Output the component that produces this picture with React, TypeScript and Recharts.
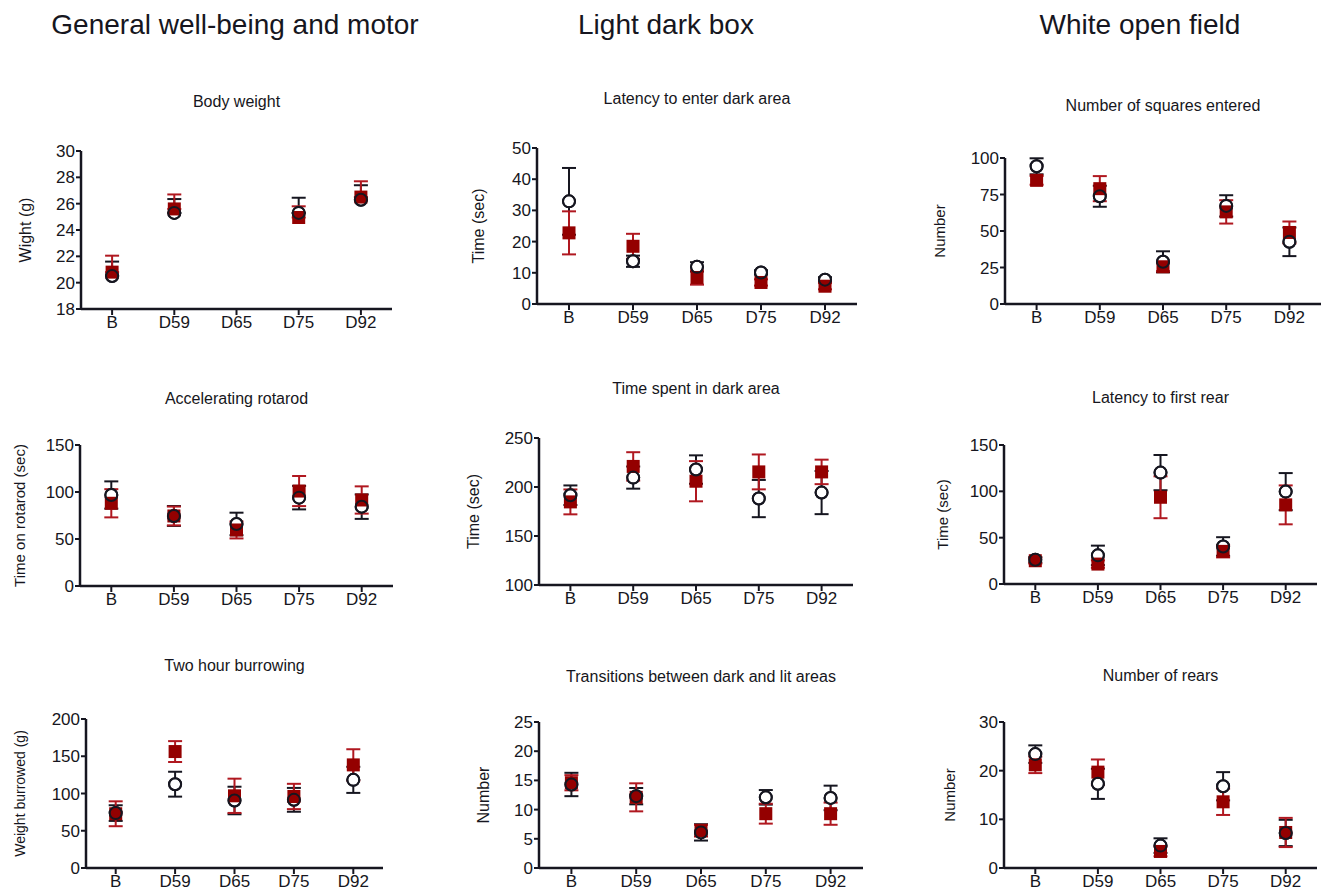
import React from "react";
import { ScatterChart, Scatter, XAxis, YAxis, ErrorBar } from "recharts";

const DAYS = ["B", "D59", "D65", "D75", "D92"];

// Body weight (g) - error bars only drawn upward in the original
const weightCirc = [20.5, 25.3, null, 25.3, 26.3];
const weightCircErr = [1.1, 1.05, null, 1.15, 1.1];
const weightSq = [20.8, 25.6, null, 24.95, 26.5];
const weightSqErr = [1.25, 1.1, null, 0.85, 1.2];

// Latency to enter dark area (sec)
const latDarkCirc = [32.9, 13.7, 11.9, 10.1, 7.8];
const latDarkCircErr = [10.7, 1.8, 1.5, 0.7, 0.8];
const latDarkSq = [22.8, 18.5, 8.5, 6.9, 5.7];
const latDarkSqErr = [6.9, 4.0, 2.3, 1.0, 1.0];

// Number of squares entered
const squaresCirc = [94.3, 73.8, 28.9, 67.2, 42.6];
const squaresCircErr = [5.5, 7.2, 7.2, 7.3, 9.8];
const squaresSq = [84.7, 79.0, 25.5, 63.1, 49.0];
const squaresSqErr = [3, 8.6, 3, 8, 7.5];

// Accelerating rotarod (sec)
const rotarodCirc = [96.8, 74.5, 66, 94, 84.4];
const rotarodCircErr = [14.5, 10.6, 12, 12.5, 13];
const rotarodSq = [88, 74.5, 59.6, 101, 91.5];
const rotarodSqErr = [15, 10, 9, 16, 14.5];

// Time spent in dark area (sec)
const darkTimeCirc = [191.6, 209.6, 217.8, 188.2, 194.3];
const darkTimeCircErr = [10, 11.3, 14.5, 19, 22];
const darkTimeSq = [184.8, 221, 205.9, 215.4, 215.4];
const darkTimeSqErr = [12.7, 14.5, 20.5, 17.8, 12.5];

// Latency to first rear (sec)
const rearLatCirc = [26.2, 30.9, 120.2, 40.5, 99.7];
const rearLatCircErr = [3, 10.5, 19, 10, 20];
const rearLatSq = [25.1, 21.5, 93.6, 35.2, 85.4];
const rearLatSqErr = [3, 4, 22.6, 6.5, 21];

// Two hour burrowing (g)
const burrowCirc = [73.7, 112.5, 90.6, 91.5, 118.3];
const burrowCircErr = [10.5, 16.7, 18.5, 16, 17.5];
const burrowSq = [72.8, 156.3, 96.9, 96, 138.4];
const burrowSqErr = [16.7, 14, 23, 17, 21];

// Transitions between dark and lit areas
const transCirc = [14.3, 12.3, 6.1, 12.1, 12.0];
const transCircErr = [2, 1.4, 1.4, 1.25, 2.1];
const transSq = [14.6, 12.1, 6.4, 9.3, 9.3];
const transSqErr = [1.3, 2.4, 1.0, 1.7, 1.9];

// Number of rears
const rearsCirc = [23.4, 17.3, 4.6, 16.8, 7.2];
const rearsCircErr = [1.8, 3.1, 1.5, 2.9, 2.7];
const rearsSq = [21.2, 19.7, 3.4, 13.6, 7.3];
const rearsSqErr = [1.7, 2.6, 1.0, 2.7, 3.0];

const INK = "#161620";
const RED = "#940000";
const RED_BAR = "#b01820";
const FONT = "'Liberation Sans', Arial, sans-serif";

const AXIS_W = 75;
const MT = 12;
const XH = 24;
const MR = 8;

type PanelDef = {
  title: string;
  titleY: number;
  yLabel: string;
  yLabelX: number;
  yLabelSize: number;
  x0: number;
  x1: number;
  yTop: number;
  yBot: number;
  domain: [number, number];
  ticks: number[];
  circ: (number | null)[];
  circErr: (number | null)[];
  sq: (number | null)[];
  sqErr: (number | null)[];
  upOnly?: boolean;
};

const panels: PanelDef[] = [
  {
    title: "Body weight", titleY: 102, yLabel: "Wight (g)", yLabelX: 25, yLabelSize: 16,
    x0: 81, x1: 392, yTop: 151, yBot: 309, domain: [18, 30], ticks: [18, 20, 22, 24, 26, 28, 30],
    circ: weightCirc, circErr: weightCircErr, sq: weightSq, sqErr: weightSqErr, upOnly: true,
  },
  {
    title: "Latency to enter dark area", titleY: 99, yLabel: "Time (sec)", yLabelX: 478, yLabelSize: 16,
    x0: 537, x1: 857, yTop: 148, yBot: 304, domain: [0, 50], ticks: [0, 10, 20, 30, 40, 50],
    circ: latDarkCirc, circErr: latDarkCircErr, sq: latDarkSq, sqErr: latDarkSqErr,
  },
  {
    title: "Number of squares entered", titleY: 106, yLabel: "Number", yLabelX: 940, yLabelSize: 15,
    x0: 1005, x1: 1321, yTop: 158, yBot: 304, domain: [0, 100], ticks: [0, 25, 50, 75, 100],
    circ: squaresCirc, circErr: squaresCircErr, sq: squaresSq, sqErr: squaresSqErr,
  },
  {
    title: "Accelerating rotarod", titleY: 399, yLabel: "Time on rotarod (sec)", yLabelX: 20, yLabelSize: 15,
    x0: 80, x1: 393, yTop: 445, yBot: 586, domain: [0, 150], ticks: [0, 50, 100, 150],
    circ: rotarodCirc, circErr: rotarodCircErr, sq: rotarodSq, sqErr: rotarodSqErr,
  },
  {
    title: "Time spent in dark area", titleY: 389, yLabel: "Time (sec)", yLabelX: 473, yLabelSize: 16,
    x0: 539, x1: 853, yTop: 438, yBot: 585, domain: [100, 250], ticks: [100, 150, 200, 250],
    circ: darkTimeCirc, circErr: darkTimeCircErr, sq: darkTimeSq, sqErr: darkTimeSqErr,
  },
  {
    title: "Latency to first rear", titleY: 398, yLabel: "Time (sec)", yLabelX: 943, yLabelSize: 15,
    x0: 1004, x1: 1317, yTop: 445, yBot: 584, domain: [0, 150], ticks: [0, 50, 100, 150],
    circ: rearLatCirc, circErr: rearLatCircErr, sq: rearLatSq, sqErr: rearLatSqErr,
  },
  {
    title: "Two hour burrowing", titleY: 666, yLabel: "Weight burrowed (g)", yLabelX: 20, yLabelSize: 14,
    x0: 86, x1: 383, yTop: 719, yBot: 868, domain: [0, 200], ticks: [0, 50, 100, 150, 200],
    circ: burrowCirc, circErr: burrowCircErr, sq: burrowSq, sqErr: burrowSqErr,
  },
  {
    title: "Transitions between dark and lit areas", titleY: 677, yLabel: "Number", yLabelX: 483, yLabelSize: 16,
    x0: 539, x1: 863, yTop: 722, yBot: 868, domain: [0, 25], ticks: [0, 5, 10, 15, 20, 25],
    circ: transCirc, circErr: transCircErr, sq: transSq, sqErr: transSqErr,
  },
  {
    title: "Number of rears", titleY: 676, yLabel: "Number", yLabelX: 950, yLabelSize: 15,
    x0: 1004, x1: 1317, yTop: 722, yBot: 868, domain: [0, 30], ticks: [0, 10, 20, 30],
    circ: rearsCirc, circErr: rearsCircErr, sq: rearsSq, sqErr: rearsSqErr,
  },
];

const headers = [
  { text: "General well-being and motor", x: 235 },
  { text: "Light dark box", x: 666 },
  { text: "White open field", x: 1140 },
];

function build(vals: (number | null)[], errs: (number | null)[], upOnly?: boolean) {
  return DAYS.map((d, i) => ({
    x: i,
    day: d,
    y: vals[i],
    err: upOnly ? [0, errs[i] ?? 0] : errs[i],
  })).filter((p) => p.y != null);
}

const WhiteCircle = (props: any) => (
  <circle cx={props.cx} cy={props.cy} r={6} fill="#fff" stroke={INK} strokeWidth={2} />
);
const Ring = (props: any) => (
  <circle cx={props.cx} cy={props.cy} r={6} fill="none" stroke={INK} strokeWidth={2} />
);
const RedSquare = (props: any) => (
  <rect x={props.cx - 6.5} y={props.cy - 6.5} width={13} height={13} fill={RED} />
);

function ChartPanel({ p }: { p: PanelDef }) {
  const w = AXIS_W + (p.x1 - p.x0) + MR;
  const h = MT + (p.yBot - p.yTop) + XH;
  const left = p.x0 - AXIS_W;
  const top = p.yTop - MT;
  const circ = build(p.circ, p.circErr, p.upOnly);
  const sq = build(p.sq, p.sqErr, p.upOnly);

  return (
    <>
      <div
        style={{
          position: "absolute",
          left: p.x0,
          width: p.x1 - p.x0,
          top: p.titleY - 10,
          lineHeight: "20px",
          fontSize: 16,
          textAlign: "center",
          color: INK,
          whiteSpace: "nowrap",
        }}
      >
        {p.title}
      </div>
      <div style={{ position: "absolute", left, top }}>
        <ScatterChart width={w} height={h} margin={{ top: MT, right: MR, bottom: 0, left: 0 }}>
          <XAxis
            type="number"
            dataKey="x"
            domain={[-0.5, 4.5]}
            ticks={[0, 1, 2, 3, 4]}
            tickFormatter={(i: number) => DAYS[i]}
            interval={0}
            allowDataOverflow
            height={XH}
            axisLine={{ stroke: INK, strokeWidth: 2.5 }}
            tickLine={{ stroke: INK, strokeWidth: 2 }}
            tickSize={6}
            tickMargin={1}
            tick={{ fill: INK, fontSize: 17, fontFamily: FONT }}
          />
          <YAxis
            type="number"
            domain={p.domain}
            ticks={p.ticks}
            interval={0}
            allowDataOverflow
            width={AXIS_W}
            axisLine={{ stroke: INK, strokeWidth: 2.5 }}
            tickLine={{ stroke: INK, strokeWidth: 2 }}
            tickSize={5}
            tickMargin={1}
            tick={{ fill: INK, fontSize: 17, fontFamily: FONT }}
            label={{
              value: p.yLabel,
              angle: -90,
              position: "insideLeft",
              offset: p.yLabelX - left,
              style: { textAnchor: "middle", fontSize: p.yLabelSize, fill: INK, fontFamily: FONT },
            }}
          />
          <Scatter data={circ} dataKey="y" isAnimationActive={false} shape={WhiteCircle}>
            <ErrorBar dataKey="err" direction="y" width={7} stroke={INK} strokeWidth={2} isAnimationActive={false} />
          </Scatter>
          <Scatter data={sq} dataKey="y" isAnimationActive={false} shape={RedSquare}>
            <ErrorBar dataKey="err" direction="y" width={7} stroke={RED_BAR} strokeWidth={2} isAnimationActive={false} />
          </Scatter>
          <Scatter data={circ} dataKey="y" isAnimationActive={false} shape={Ring} />
        </ScatterChart>
      </div>
    </>
  );
}

export default function App() {
  return (
    <div
      style={{
        position: "absolute",
        left: 0,
        top: 0,
        width: 1324,
        height: 891,
        background: "#fff",
        fontFamily: FONT,
        color: INK,
        overflow: "hidden",
      }}
    >
      {headers.map((hd) => (
        <div
          key={hd.text}
          style={{
            position: "absolute",
            left: hd.x - 250,
            width: 500,
            top: 8,
            fontSize: 28,
            lineHeight: "34px",
            textAlign: "center",
            whiteSpace: "nowrap",
          }}
        >
          {hd.text}
        </div>
      ))}
      {panels.map((p) => (
        <ChartPanel key={p.title} p={p} />
      ))}
    </div>
  );
}
